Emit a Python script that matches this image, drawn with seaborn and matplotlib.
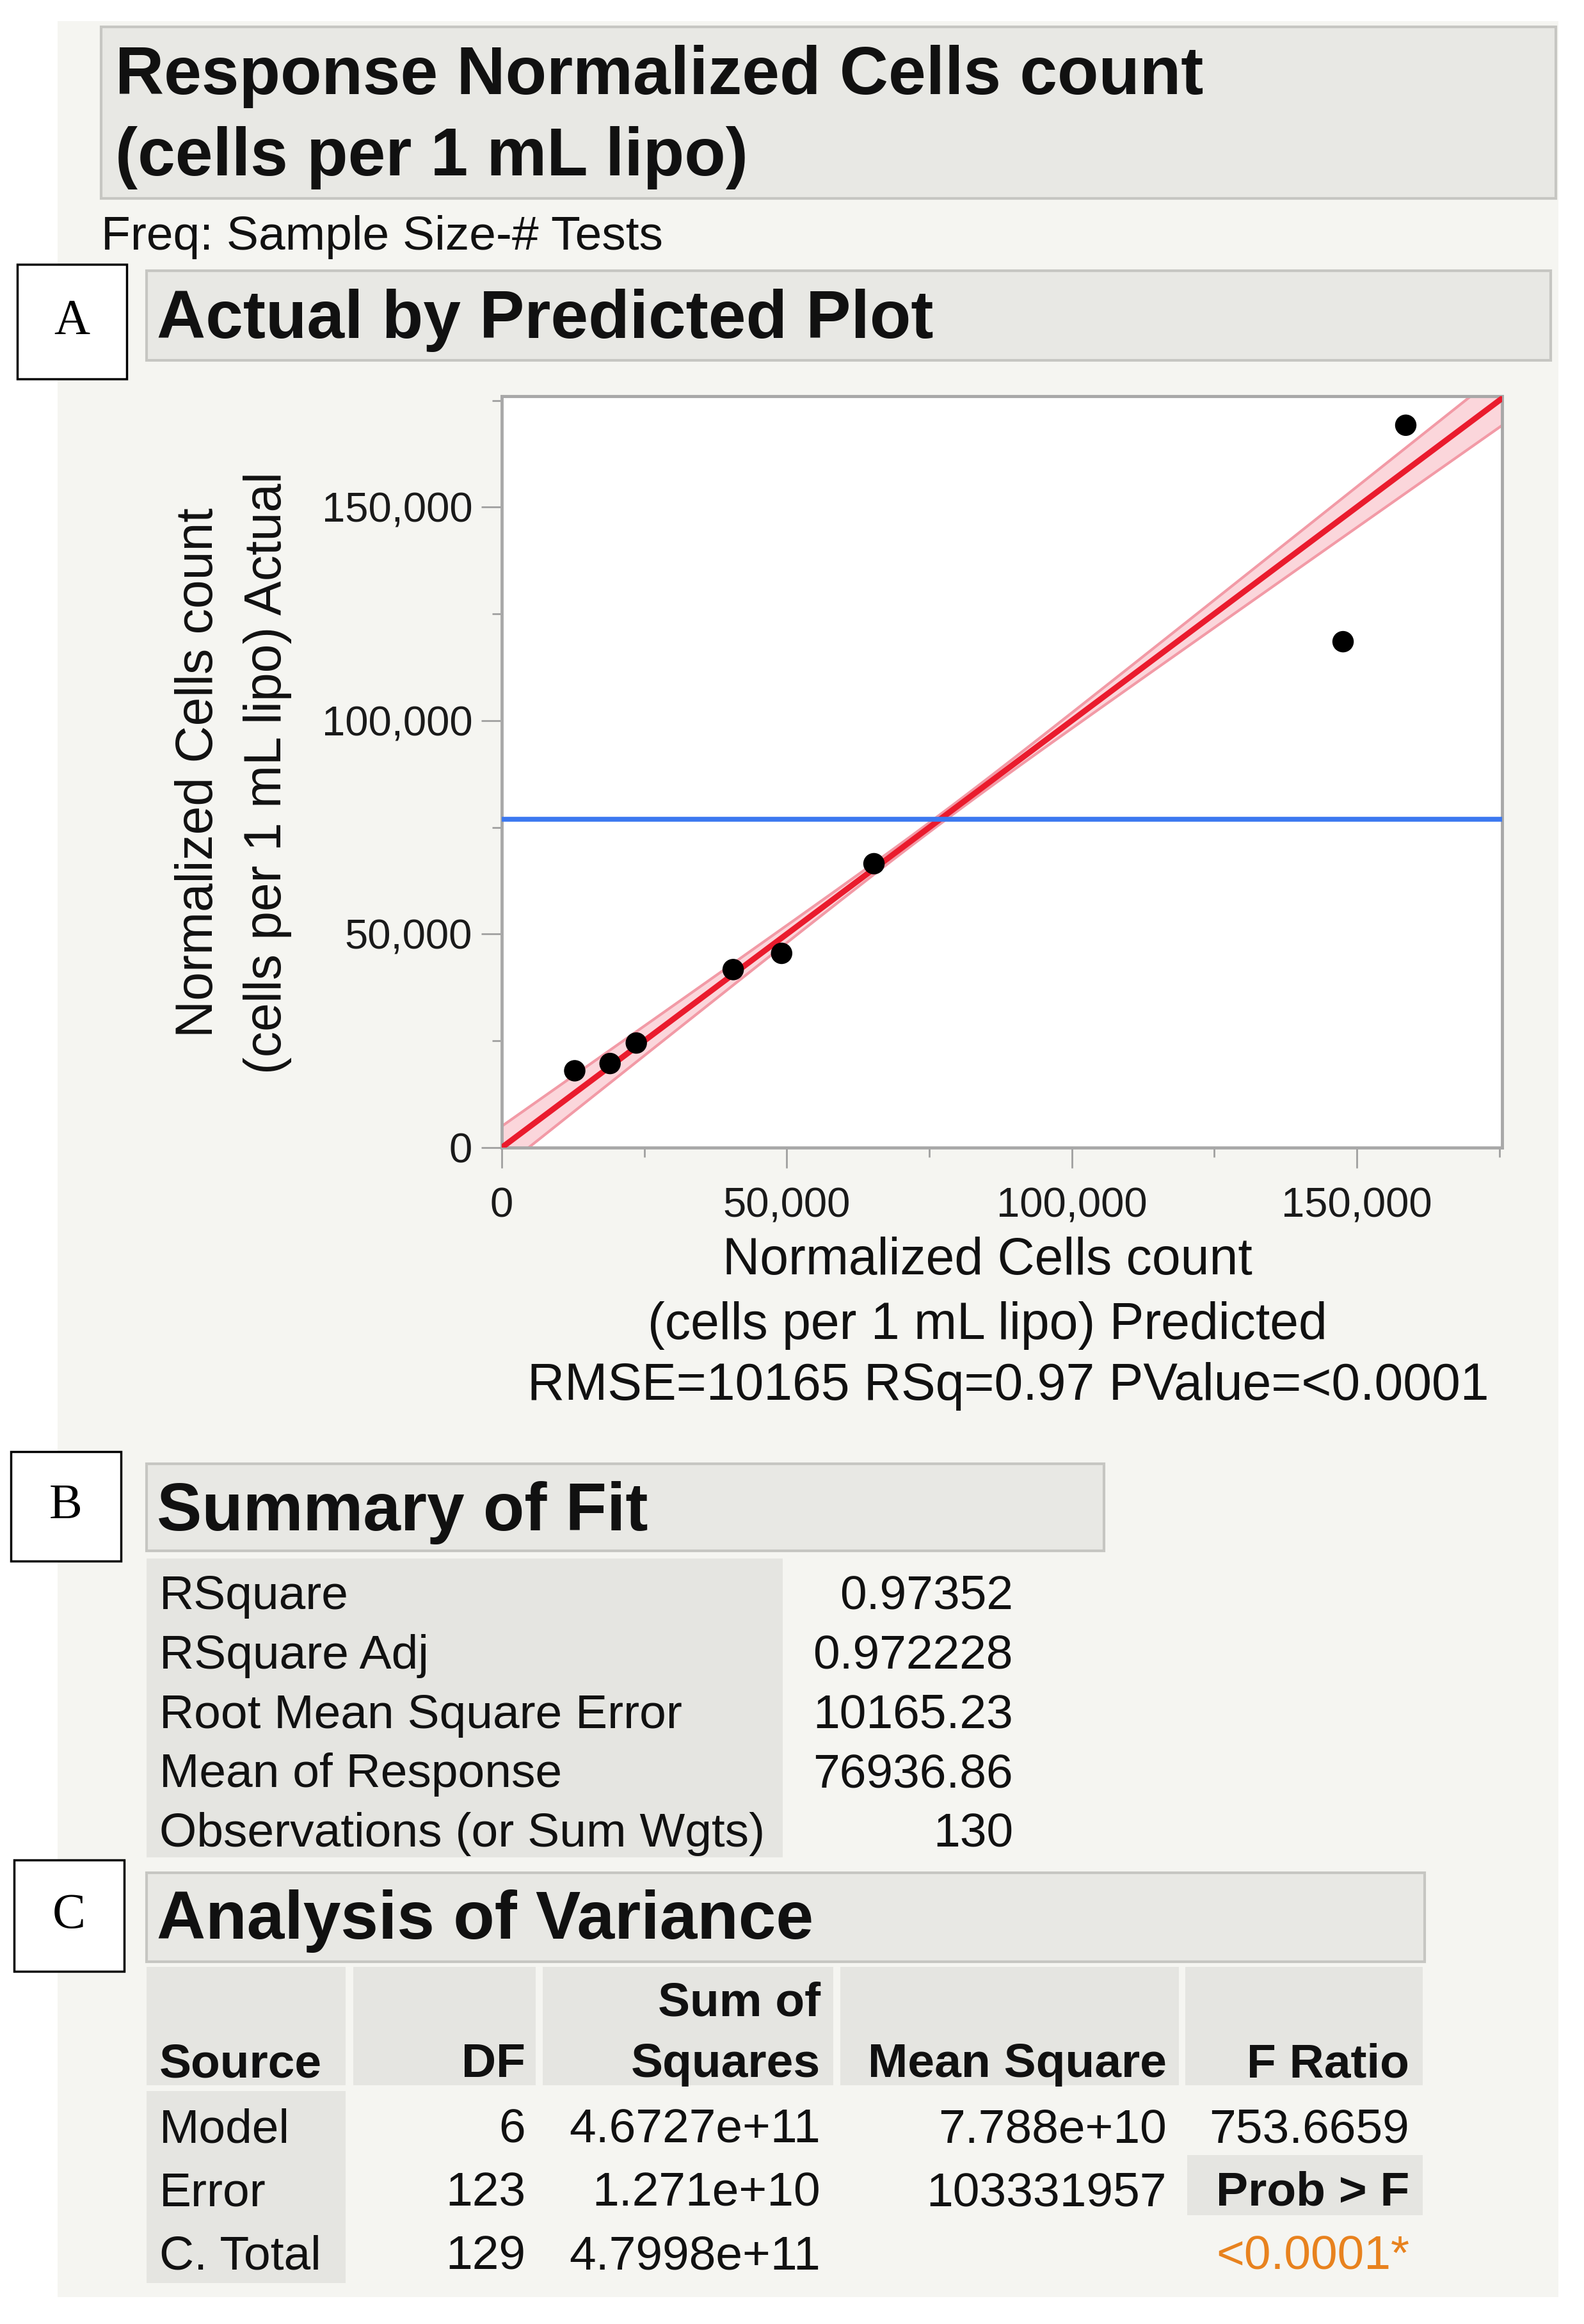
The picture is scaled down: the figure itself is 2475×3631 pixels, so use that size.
import numpy as np
import matplotlib.pyplot as plt
import seaborn as sns
from matplotlib.patches import Rectangle
from matplotlib.ticker import MultipleLocator, FuncFormatter

# dados
predicted = [12800, 19000, 23600, 40600, 49100, 65300, 147600, 158600]
actual = [18000, 19700, 24500, 41700, 45500, 66500, 118500, 169200]
mean_response = 76936.86
band_center = 1100    # meia largura da banda no centro
band_zero = 5000      # meia largura da banda em x = 0

fit_labels = ["RSquare", "RSquare Adj", "Root Mean Square Error",
              "Mean of Response", "Observations (or Sum Wgts)"]
fit_values = ["0.97352", "0.972228", "10165.23", "76936.86", "130"]

anova_source = ["Model", "Error", "C. Total"]
anova_df = ["6", "123", "129"]
anova_ss = ["4.6727e+11", "1.271e+10", "4.7998e+11"]
anova_ms = ["7.788e+10", "103331957", ""]
f_ratio = "753.6659"
prob_f = "<0.0001*"

sns.set_theme(style="white")
plt.rcParams['font.family'] = ['Liberation Sans', 'DejaVu Sans']

W, H = 2475, 3631
fig = plt.figure(figsize=(W / 100, H / 100), dpi=100)
fig.patch.set_facecolor('white')

def fx(x):
    return x / W

def fy(y):
    return 1 - y / H

def caixa(x0, y0, x1, y1, fc, ec='none', lw=0, z=-5):
    r = Rectangle((fx(x0), fy(y1)), (x1 - x0) / W, (y1 - y0) / H,
                  transform=fig.transFigure, facecolor=fc, edgecolor=ec,
                  linewidth=lw, zorder=z)
    fig.add_artist(r)

def texto(x, y, s, size, ha='left', bold=False, color='#111111', **kw):
    fig.text(fx(x), fy(y), s, fontsize=size, ha=ha, va='baseline',
             fontweight='bold' if bold else 'normal', color=color, **kw)

PANEL = '#f5f5f1'
HEAD = '#e8e8e4'
CELL = '#e5e5e1'

# painel cinza de fundo
caixa(90, 33, 2435, 3589, PANEL, z=-10)

# cabeçalho principal
caixa(158, 42, 2431, 310, HEAD, ec='#c6c6c2', lw=3)
texto(180, 147, "Response Normalized Cells count", 76, bold=True)
texto(180, 274, "(cells per 1 mL lipo)", 76, bold=True)
texto(158, 390, "Freq: Sample Size-# Tests", 54)

# caixas A, B, C
for (x0, y0, x1, y1, letra) in [(27, 413, 198, 592, "A"),
                                (17, 2268, 189, 2439, "B"),
                                (22, 2906, 194, 3080, "C")]:
    caixa(x0, y0, x1, y1, 'white', ec='black', lw=2.5, z=-4)
    fig.text(fx((x0 + x1) / 2), fy((y0 + y1) / 2), letra, fontsize=56,
             ha='center', va='center', family='Liberation Serif', color='black')

# secção A
caixa(229, 423, 2423, 563, HEAD, ec='#c6c6c2', lw=3)
texto(245, 528, "Actual by Predicted Plot", 76, bold=True)

ax = fig.add_axes([fx(784), fy(1793), (2347 - 784) / W, (1793 - 619) / H])
ax.set_facecolor('white')

xs = np.linspace(0, 175500, 300)
k2 = (band_zero ** 2 - band_center ** 2) / mean_response ** 2
hw = np.sqrt(band_center ** 2 + k2 * (xs - mean_response) ** 2)
ax.fill_between(xs, xs - hw, xs + hw, color='#fbd6db', lw=0, zorder=1)
ax.plot(xs, xs - hw, color='#f29aa6', lw=3, zorder=2)
ax.plot(xs, xs + hw, color='#f29aa6', lw=3, zorder=2)
sns.lineplot(x=xs, y=xs, color='#ea1b2d', lw=6.5, ax=ax, zorder=3)
ax.axhline(mean_response, color='#3c78f0', lw=5.5, zorder=3)
sns.scatterplot(x=predicted, y=actual, s=580, color='black',
                edgecolor='none', zorder=5, ax=ax)

ax.set_xlim(0, 175500)
ax.set_ylim(0, 176000)
fmt = FuncFormatter(lambda v, p: f"{int(v):,}")
for eixo in (ax.xaxis, ax.yaxis):
    eixo.set_major_locator(MultipleLocator(50000))
    eixo.set_minor_locator(MultipleLocator(25000))
    eixo.set_major_formatter(fmt)
ax.tick_params(which='major', length=23, width=2, color='#a0a0a0',
               labelsize=47, labelcolor='#1a1a1a')
ax.tick_params(which='minor', length=11, width=2, color='#a0a0a0')
ax.tick_params(axis='x', which='both', bottom=True, pad=21)
ax.tick_params(axis='y', which='both', left=True, pad=10)
for sp in ax.spines.values():
    sp.set_color('#a8a8a8')
    sp.set_linewidth(3.5)
ax.grid(False)

texto(1543, 1991, "Normalized Cells count", 58, ha='center')
texto(1543, 2092, "(cells per 1 mL lipo) Predicted", 58, ha='center')
texto(1575, 2187, "RMSE=10165 RSq=0.97 PValue=<0.0001", 58, ha='center')
fig.text(fx(311), fy(1207), "Normalized Cells count", fontsize=58,
         rotation=90, ha='center', va='center', color='#111111')
fig.text(fx(418), fy(1207), "(cells per 1 mL lipo) Actual", fontsize=58,
         rotation=90, ha='center', va='center', color='#111111')

# secção B
caixa(229, 2287, 1725, 2423, HEAD, ec='#c6c6c2', lw=3)
texto(245, 2391, "Summary of Fit", 76, bold=True)
caixa(229, 2435, 1223, 2902, CELL)
for i, (lab, val) in enumerate(zip(fit_labels, fit_values)):
    yb = 2514 + i * 92.8
    texto(249, yb, lab, 54)
    texto(1583, yb, val, 54, ha='right')

# secção C
caixa(229, 2926, 2226, 3065, HEAD, ec='#c6c6c2', lw=3)
texto(245, 3029, "Analysis of Variance", 76, bold=True)
cols = [(229, 540), (552, 837), (848, 1302), (1313, 1842), (1852, 2223)]
for (c0, c1) in cols:
    caixa(c0, 3073, c1, 3258, CELL)
caixa(229, 3267, 540, 3567, CELL)
caixa(1855, 3367, 2223, 3461, CELL)

texto(249, 3245, "Source", 54, bold=True)
texto(821, 3245, "DF", 54, bold=True, ha='right')
texto(1282, 3150, "Sum of", 54, bold=True, ha='right')
texto(1282, 3245, "Squares", 54, bold=True, ha='right')
texto(1823, 3245, "Mean Square", 54, bold=True, ha='right')
texto(2202, 3245, "F Ratio", 54, bold=True, ha='right')

for i in range(len(anova_source)):
    yb = 3347 + i * 99.5
    texto(249, yb, anova_source[i], 54)
    texto(821, yb, anova_df[i], 54, ha='right')
    texto(1282, yb, anova_ss[i], 54, ha='right')
    texto(1823, yb, anova_ms[i], 54, ha='right')
texto(2202, 3347, f_ratio, 54, ha='right')
texto(2202, 3446, "Prob > F", 54, bold=True, ha='right')
texto(2202, 3546, prob_f, 54, ha='right', color='#e8821e')

fig.savefig("out.png", dpi=100)
